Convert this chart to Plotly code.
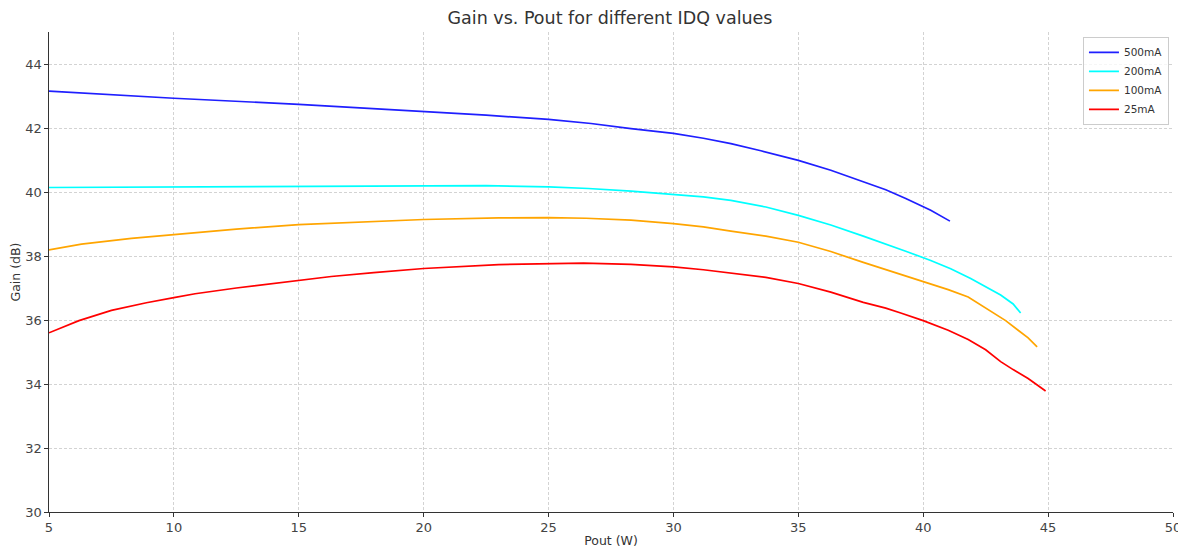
import plotly.graph_objects as go

# ---- Data ----
x_500 = [5, 10, 15, 20, 22.5, 25, 26.7, 28.3, 30, 31.2, 32.3, 33.5, 35, 36.3, 37.6, 38.5, 39.3, 40.3, 41.07]
y_500 = [43.15, 42.93, 42.74, 42.52, 42.40, 42.27, 42.14, 41.98, 41.83, 41.68, 41.51, 41.29, 40.99, 40.68, 40.32, 40.07, 39.80, 39.43, 39.09]

x_200 = [5, 10, 15, 20, 22.5, 25, 26.6, 28.3, 30, 31.2, 32.3, 33.7, 35, 36.3, 37.6, 38.5, 39.3, 40.3, 41.1, 41.9, 42.5, 43.1, 43.6, 43.9]
y_200 = [40.14, 40.16, 40.19, 40.21, 40.20, 40.16, 40.11, 40.03, 39.93, 39.85, 39.74, 39.53, 39.27, 38.97, 38.62, 38.38, 38.15, 37.86, 37.60, 37.30, 37.05, 36.78, 36.50, 36.22]

x_100 = [5, 6.3, 8.3, 10, 12.5, 15, 17.5, 20, 23, 25, 26.5, 28.3, 30, 31.2, 32.3, 33.7, 35, 36.3, 37.6, 38.8, 40, 41, 41.8, 42.7, 43.3, 43.8, 44.2, 44.56]
y_100 = [38.19, 38.37, 38.55, 38.67, 38.84, 38.98, 39.06, 39.14, 39.19, 39.20, 39.18, 39.12, 39.01, 38.91, 38.78, 38.62, 38.43, 38.14, 37.80, 37.50, 37.19, 36.95, 36.72, 36.27, 35.98, 35.68, 35.44, 35.16]

x_25 = [5, 6.2, 7.5, 8.9, 10, 10.85, 12.5, 15, 16.3, 18, 20, 23, 25, 26.4, 28.3, 30, 31.2, 32.3, 33.7, 35, 36.3, 37.6, 38.5, 39.1, 40, 41, 41.8, 42.5, 43.1, 43.6, 44.2, 44.9]
y_25 = [35.60, 35.98, 36.30, 36.54, 36.70, 36.82, 37.00, 37.24, 37.36, 37.48, 37.61, 37.73, 37.76, 37.78, 37.74, 37.66, 37.57, 37.47, 37.33, 37.14, 36.87, 36.55, 36.37, 36.22, 35.98, 35.68, 35.39, 35.07, 34.70, 34.45, 34.17, 33.78]

series_names = ["500mA", "200mA", "100mA", "25mA"]
series_x = [x_500, x_200, x_100, x_25]
series_y = [y_500, y_200, y_100, y_25]
series_colors = ["#1f1fff", "#00ffff", "#ffa500", "#ff0000"]

x_ticks = [5, 10, 15, 20, 25, 30, 35, 40, 45, 50]
y_ticks = [30, 32, 34, 36, 38, 40, 42, 44]

FONT = "DejaVu Sans"
W, H = 1186, 547
OFF = 8  # page body margin shifts the figure by this much

fig = go.Figure()
for name, xs, ys, col in zip(series_names, series_x, series_y, series_colors):
    fig.add_trace(go.Scatter(x=xs, y=ys, mode="lines", name=name,
                             line=dict(color=col, width=1.7)))

axis_common = dict(
    showgrid=True, gridcolor="#d3d3d3", griddash="3px,2px", gridwidth=0.8,
    showline=True, linecolor="#333333", linewidth=1.2,
    ticks="outside", ticklen=3.5, tickwidth=1, tickcolor="#333333",
    tickfont=dict(family=FONT, size=13, color="#444444"),
    zeroline=False, mirror=False, automargin=False,
)

left, right, top, bottom = 49 - OFF, 1173 - OFF, 32 - OFF, 512 - OFF

fig.update_layout(
    width=W, height=H,
    paper_bgcolor="white", plot_bgcolor="white",
    margin=dict(l=left, r=W - right, t=top, b=H - bottom, autoexpand=False),
    title=dict(text="Gain vs. Pout for different IDQ values",
               x=(610 - OFF) / W, xanchor="center", y=1 - (18 - OFF) / H, yanchor="middle",
               font=dict(family=FONT, size=17.5, color="#333333")),
    xaxis=dict(range=[5, 50], tickvals=x_ticks,
               title=dict(text="Pout (W)", standoff=2,
                          font=dict(family=FONT, size=12.5, color="#333333")),
               **axis_common),
    yaxis=dict(range=[30, 45], tickvals=y_ticks,
               title=dict(text="Gain (dB)", standoff=2,
                          font=dict(family=FONT, size=12.5, color="#333333")),
               **axis_common),
    legend=dict(x=0.9964, y=0.99, xanchor="right", yanchor="top",
                bgcolor="rgba(255,255,255,0.8)", bordercolor="#cccccc", borderwidth=1,
                font=dict(family=FONT, size=10.5, color="#333333"),
                itemwidth=30, tracegroupgap=0),
    showlegend=True,
)

fig.write_html("out.html")
